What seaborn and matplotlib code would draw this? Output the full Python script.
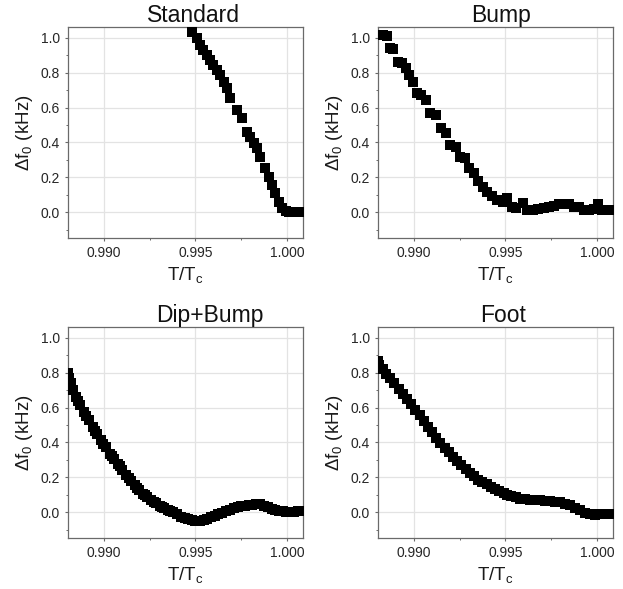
import matplotlib
matplotlib.use("Agg")
import matplotlib.pyplot as plt
import seaborn as sns
import pandas as pd
from matplotlib.ticker import MultipleLocator

# ---------------- data ----------------
titles = ["Standard", "Bump", "Dip+Bump", "Foot"]

std_x = [0.99479, 0.99506, 0.99525, 0.99543, 0.99561, 0.99580, 0.99598, 0.99616,
         0.99634, 0.99653, 0.99671, 0.99689, 0.99726, 0.99753, 0.99781, 0.99799,
         0.99817, 0.99836, 0.99854, 0.99881, 0.99900, 0.99918, 0.99936, 0.99954,
         0.99973, 0.99991, 1.00010, 1.00027, 1.00046, 1.00064, 1.00082]
std_y = [1.034, 0.996, 0.958, 0.929, 0.901, 0.872, 0.844, 0.815,
         0.786, 0.748, 0.710, 0.653, 0.586, 0.538, 0.462, 0.433,
         0.395, 0.366, 0.319, 0.252, 0.204, 0.156, 0.109, 0.061,
         0.023, 0.004, -0.002, -0.002, -0.002, -0.002, 0.002]

bump_x = [0.98834, 0.98852, 0.98870, 0.98888, 0.98912, 0.98936, 0.98958, 0.98973,
          0.98995, 0.99016, 0.99040, 0.99068, 0.99090, 0.99119, 0.99146, 0.99174,
          0.99199, 0.99229, 0.99254, 0.99278, 0.99302, 0.99327, 0.99351, 0.99375,
          0.99400, 0.99429, 0.99455, 0.99484, 0.99510, 0.99534, 0.99558, 0.99598,
          0.99620, 0.99649, 0.99680, 0.99708, 0.99735, 0.99762, 0.99790, 0.99817,
          0.99845, 0.99872, 0.99900, 0.99927, 0.99954, 0.99982, 1.00004, 1.00027,
          1.00055, 1.00082]
bump_y = [1.015, 1.010, 0.939, 0.933, 0.863, 0.853, 0.824, 0.786,
          0.748, 0.681, 0.672, 0.643, 0.567, 0.557, 0.481, 0.452,
          0.385, 0.376, 0.319, 0.309, 0.252, 0.223, 0.176, 0.147,
          0.118, 0.090, 0.071, 0.061, 0.080, 0.032, 0.023, 0.052,
          0.013, 0.013, 0.017, 0.023, 0.029, 0.036, 0.044, 0.048,
          0.048, 0.032, 0.029, 0.013, 0.013, 0.017, 0.048, 0.013,
          0.013, 0.010]

dip_x = [0.98805, 0.98812, 0.98820, 0.98832, 0.98849, 0.98860, 0.98872, 0.98894,
         0.98905, 0.98918, 0.98940, 0.98952, 0.98964, 0.98986, 0.98998, 0.99010,
         0.99031, 0.99043, 0.99055, 0.99077, 0.99089, 0.99101, 0.99123, 0.99135,
         0.99147, 0.99168, 0.99180, 0.99192, 0.99214, 0.99226, 0.99238, 0.99260,
         0.99272, 0.99284, 0.99305, 0.99317, 0.99329, 0.99351, 0.99363, 0.99375,
         0.99397, 0.99420, 0.99443, 0.99460, 0.99480, 0.99500, 0.99525, 0.99545,
         0.99565, 0.99585, 0.99605, 0.99625, 0.99645, 0.99665, 0.99689, 0.99710,
         0.99730, 0.99750, 0.99770, 0.99790, 0.99810, 0.99830, 0.99854, 0.99875,
         0.99895, 0.99915, 0.99935, 0.99955, 0.99975, 0.99995, 1.00018, 1.00040,
         1.00060, 1.00080]
dip_y = [0.800, 0.770, 0.740, 0.700, 0.661, 0.636, 0.612, 0.575,
         0.553, 0.530, 0.489, 0.468, 0.449, 0.412, 0.392, 0.372,
         0.336, 0.320, 0.304, 0.278, 0.262, 0.244, 0.211, 0.196,
         0.181, 0.153, 0.140, 0.128, 0.106, 0.096, 0.086, 0.067,
         0.058, 0.050, 0.035, 0.028, 0.021, 0.010, 0.004, -0.002,
         -0.013, -0.025, -0.034, -0.040, -0.045, -0.048, -0.050, -0.045,
         -0.038, -0.030, -0.022, -0.013, -0.004, 0.004, 0.014, 0.022,
         0.030, 0.035, 0.038, 0.040, 0.042, 0.044, 0.044, 0.036,
         0.028, 0.020, 0.013, 0.008, 0.004, 0.002, 0.000, 0.002,
         0.004, 0.008]

foot_x = [0.98803, 0.98812, 0.98830, 0.98849, 0.98871, 0.98894, 0.98917, 0.98940,
          0.98963, 0.98986, 0.99008, 0.99031, 0.99054, 0.99077, 0.99100, 0.99123,
          0.99145, 0.99168, 0.99191, 0.99214, 0.99237, 0.99260, 0.99282, 0.99305,
          0.99328, 0.99351, 0.99374, 0.99397, 0.99420, 0.99443, 0.99465, 0.99490,
          0.99510, 0.99530, 0.99555, 0.99580, 0.99605, 0.99634, 0.99660, 0.99689,
          0.99715, 0.99744, 0.99770, 0.99799, 0.99825, 0.99854, 0.99880, 0.99909,
          0.99935, 0.99963, 0.99990, 1.00018, 1.00045, 1.00073, 1.00090]
foot_y = [0.865, 0.843, 0.820, 0.795, 0.767, 0.738, 0.709, 0.680,
          0.650, 0.619, 0.588, 0.556, 0.522, 0.489, 0.458, 0.428,
          0.399, 0.370, 0.343, 0.316, 0.292, 0.268, 0.246, 0.224,
          0.205, 0.186, 0.172, 0.159, 0.146, 0.134, 0.123, 0.110,
          0.100, 0.092, 0.084, 0.077, 0.074, 0.071, 0.069, 0.067,
          0.065, 0.063, 0.061, 0.057, 0.049, 0.039, 0.025, 0.010,
          -0.003, -0.013, -0.015, -0.013, -0.012, -0.010, -0.010]

x_ticks = [0.990, 0.995, 1.000]
x_ticklabels = ["0.990", "0.995", "1.000"]
y_ticks = [0.0, 0.2, 0.4, 0.6, 0.8, 1.0]
y_ticklabels = ["0.0", "0.2", "0.4", "0.6", "0.8", "1.0"]

series = [(std_x, std_y), (bump_x, bump_y), (dip_x, dip_y), (foot_x, foot_y)]

# ---------------- style ----------------
sns.set_style("white")
plt.rcParams["font.family"] = ["Liberation Sans", "DejaVu Sans"]
plt.rcParams["mathtext.fontset"] = "custom"
plt.rcParams["mathtext.rm"] = "Liberation Sans"
plt.rcParams["mathtext.it"] = "Liberation Sans:italic"

fig = plt.figure(figsize=(6.23, 5.89), dpi=100)

W, H = 623.0, 589.0
ax_w, ax_h = 235.6, 211.0
lefts = [67.7, 377.7, 67.7, 377.7]
bottoms_px = [238.3, 238.3, 538.3, 538.3]
title_x = [0.532, 0.523, 0.604, 0.534]

spine_col = "#6a6a6a"
grid_col = "#e3e3e3"

for i, (xs, ys) in enumerate(series):
    ax = fig.add_axes([lefts[i] / W, 1 - bottoms_px[i] / H, ax_w / W, ax_h / H])
    df = pd.DataFrame({"x": xs, "y": ys})
    sns.scatterplot(data=df, x="x", y="y", ax=ax, marker="s", s=52,
                    color="black", edgecolor="black", linewidth=0, zorder=3)
    ax.set_xlim(0.98803, 1.00088)
    ax.set_ylim(-0.15, 1.06)
    ax.set_xticks(x_ticks)
    ax.set_xticklabels(x_ticklabels)
    ax.set_yticks(y_ticks)
    ax.set_yticklabels(y_ticklabels)
    ax.xaxis.set_minor_locator(MultipleLocator(0.0025))
    ax.yaxis.set_minor_locator(MultipleLocator(0.1))
    ax.grid(True, which="major", color=grid_col, linewidth=0.9, zorder=0)
    ax.set_axisbelow(True)
    for sp in ax.spines.values():
        sp.set_visible(True)
        sp.set_color(spine_col)
        sp.set_linewidth(0.9)
    ax.tick_params(axis="both", which="major", direction="out", length=2.5,
                   width=0.8, color=spine_col, labelsize=10, labelcolor="#262626",
                   pad=3, left=True, bottom=True)
    ax.tick_params(axis="both", which="minor", direction="out", length=1.5,
                   width=0.7, color=spine_col, left=True, bottom=True)
    ax.set_xlabel(r"T/T$_\mathrm{c}$", fontsize=13.5, color="#1a1a1a", labelpad=4)
    ax.set_ylabel(r"$\Delta$f$_0$ (kHz)", fontsize=13.5, color="#1a1a1a", labelpad=4)
    ax.set_title(titles[i], fontsize=16.5, color="#111111", x=title_x[i], pad=3)

fig.savefig("out.png", dpi=100, facecolor="white")
